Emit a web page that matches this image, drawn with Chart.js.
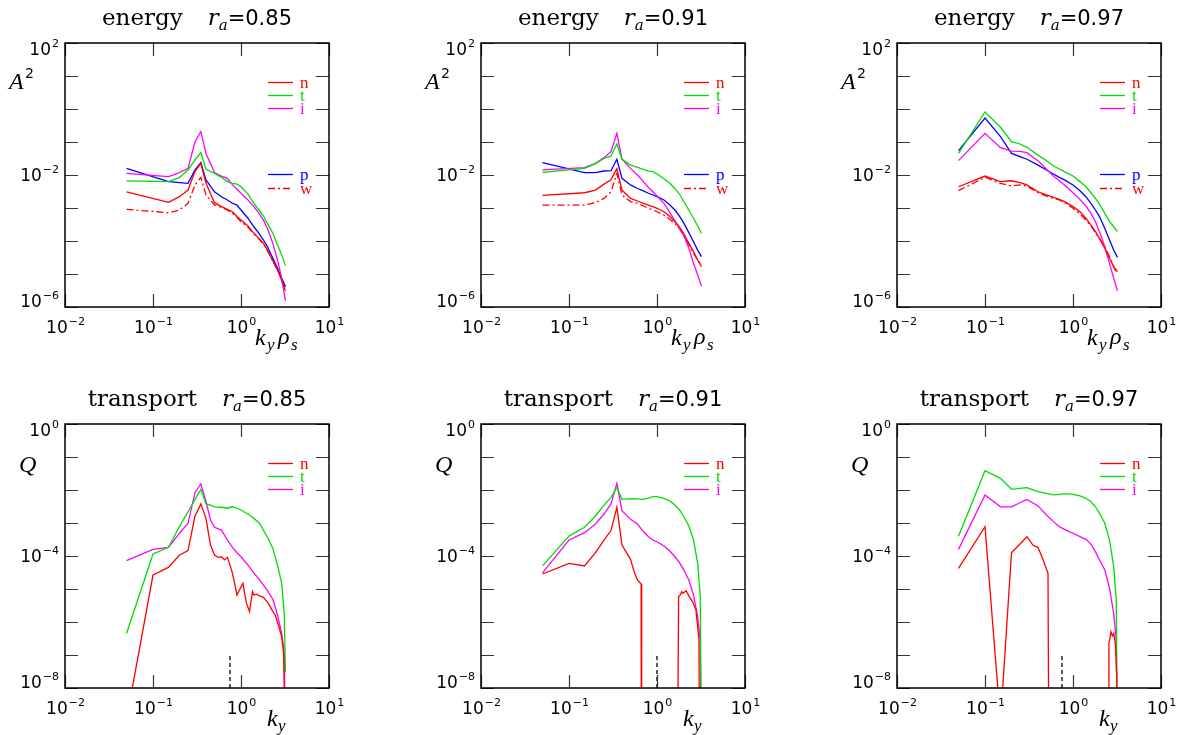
<!DOCTYPE html>
<html>
<head>
<meta charset="utf-8">
<script src="https://cdn.jsdelivr.net/npm/chart.js@4.4.1/dist/chart.umd.min.js"></script>
<style>
  body { margin: 0; background: #fff; width: 1183px; height: 735px; overflow: hidden; position: relative; }
  canvas { position: absolute; }
</style>
</head>
<body>
<canvas id="e85" width="416" height="367" style="left:0px;top:0px"></canvas>
<canvas id="e91" width="416" height="367" style="left:416px;top:0px"></canvas>
<canvas id="e97" width="416" height="367" style="left:832px;top:0px"></canvas>
<canvas id="q85" width="416" height="368" style="left:0px;top:367px"></canvas>
<canvas id="q91" width="416" height="368" style="left:416px;top:367px"></canvas>
<canvas id="q97" width="416" height="368" style="left:832px;top:367px"></canvas>
<script>
// ---- energy spectra, r_a = 0.85 ----
const kE85 = [0.05, 0.15, 0.2, 0.25, 0.3, 0.35, 0.4, 0.5, 0.6, 0.7, 0.8, 0.9, 1.0, 1.2, 1.4, 1.6, 1.8, 2.0, 2.3, 2.6, 2.9, 3.2];
const nE85 = [3.1e-3, 1.49e-3, 2.2e-3, 3.5e-3, 1.3e-2, 2.26e-2, 5.6e-3, 1.45e-3, 1.1e-3, 9.1e-4, 7.7e-4, 5.5e-4, 4.3e-4, 2.85e-4, 1.71e-4, 1.2e-4, 8.5e-5, 5.3e-5, 2.5e-5, 1.32e-5, 6.3e-6, 3.1e-6];
const tE85 = [6.6e-3, 6.3e-3, 8.5e-3, 1.42e-2, 2.85e-2, 4.75e-2, 1.49e-2, 1.12e-2, 8.5e-3, 6.3e-3, 5.6e-3, 5.3e-3, 4.4e-3, 2.65e-3, 1.39e-3, 8.7e-4, 5.7e-4, 3.4e-4, 1.71e-4, 7.6e-5, 3.8e-5, 1.79e-5];
const iE85 = [1.12e-2, 8.9e-3, 1.18e-2, 1.59e-2, 1.02e-1, 2.06e-1, 4.5e-2, 1.18e-2, 9.3e-3, 7.9e-3, 5.0e-3, 3.7e-3, 2.8e-3, 1.75e-3, 1.1e-3, 6.9e-4, 4.3e-4, 2.4e-4, 8.5e-5, 2.65e-5, 7.4e-6, 1.56e-6];
const pE85 = [1.59e-2, 6.3e-3, 5.9e-3, 5.6e-3, 1.42e-2, 2.37e-2, 7.1e-3, 3.1e-3, 2.2e-3, 1.75e-3, 1.39e-3, 1.23e-3, 8.7e-4, 4.9e-4, 2.7e-4, 1.71e-4, 1.07e-4, 6.7e-5, 3.0e-5, 1.49e-5, 7.4e-6, 4.1e-6];
const wE85 = [9.1e-4, 7.2e-4, 8.7e-4, 1.39e-3, 5.0e-3, 8.5e-3, 2.48e-3, 1.23e-3, 1.05e-3, 8.7e-4, 6.9e-4, 5.2e-4, 3.85e-4, 2.6e-4, 1.63e-4, 1.15e-4, 8.1e-5, 5.1e-5, 2.5e-5, 1.32e-5, 6.9e-6, 3.7e-6];

// ---- energy spectra, r_a = 0.91 ----
const kE91 = [0.05, 0.15, 0.2, 0.25, 0.3, 0.35, 0.4, 0.5, 0.6, 0.7, 0.8, 0.9, 1.0, 1.2, 1.4, 1.6, 1.8, 2.0, 2.3, 2.6, 2.9, 3.2];
const nE91 = [2.42e-3, 2.9e-3, 3.5e-3, 5.3e-3, 7.1e-3, 1.56e-2, 3.5e-3, 1.96e-3, 1.63e-3, 1.39e-3, 1.23e-3, 1.1e-3, 9.8e-4, 7.7e-4, 5.5e-4, 3.85e-4, 2.7e-4, 1.71e-4, 8.5e-5, 4.75e-5, 2.65e-5, 1.67e-5];
const tE91 = [1.2e-2, 1.59e-2, 2.2e-2, 3.2e-2, 3.77e-2, 8.7e-2, 3.0e-2, 2.0e-2, 1.71e-2, 1.49e-2, 1.32e-2, 1.26e-2, 1.07e-2, 7.7e-3, 5.6e-3, 3.85e-3, 2.65e-3, 1.63e-3, 8.7e-4, 4.9e-4, 2.85e-4, 1.71e-4];
const iE91 = [1.42e-2, 1.67e-2, 2.26e-2, 3.4e-2, 5.1e-2, 1.83e-1, 3.0e-2, 1.59e-2, 1.0e-2, 6.3e-3, 4.2e-3, 3.1e-3, 2.3e-3, 1.39e-3, 7.2e-4, 4.1e-4, 2.4e-4, 1.52e-4, 6.0e-5, 2.1e-5, 9.3e-6, 4.3e-6];
const pE91 = [2.37e-2, 1.18e-2, 1.18e-2, 1.32e-2, 1.35e-2, 3.0e-2, 7.9e-3, 5.0e-3, 3.9e-3, 3.3e-3, 2.8e-3, 2.48e-3, 2.2e-3, 1.75e-3, 1.23e-3, 8.7e-4, 5.7e-4, 3.6e-4, 1.79e-4, 9.5e-5, 5.3e-5, 3.35e-5];
const wE91 = [1.23e-3, 1.23e-3, 1.45e-3, 1.96e-3, 3.1e-3, 1.12e-2, 2.48e-3, 1.56e-3, 1.39e-3, 1.15e-3, 9.8e-4, 8.7e-4, 7.7e-4, 6.1e-4, 4.5e-4, 3.4e-4, 2.4e-4, 1.52e-4, 7.6e-5, 4.2e-5, 2.65e-5, 1.87e-5];

// ---- energy spectra, r_a = 0.97 ----
const kE97 = [0.05, 0.1, 0.15, 0.2, 0.25, 0.3, 0.4, 0.5, 0.6, 0.7, 0.8, 1.0, 1.2, 1.4, 1.6, 1.8, 2.0, 2.3, 2.6, 2.9, 3.2];
const nE97 = [4.4e-3, 9.3e-3, 6.3e-3, 6.7e-3, 5.9e-3, 5.0e-3, 3.1e-3, 2.48e-3, 2.1e-3, 1.83e-3, 1.56e-3, 1.1e-3, 7.7e-4, 4.9e-4, 3.05e-4, 1.92e-4, 1.2e-4, 6.0e-5, 3.0e-5, 1.67e-5, 1.18e-5];
const tE97 = [4.5e-2, 8.1e-1, 2.79e-1, 1.02e-1, 8.7e-2, 6.9e-2, 4.0e-2, 2.72e-2, 1.87e-2, 1.52e-2, 1.26e-2, 9.3e-3, 6.3e-3, 4.4e-3, 2.9e-3, 1.96e-3, 1.32e-3, 6.9e-4, 3.85e-4, 2.7e-4, 1.92e-4];
const iE97 = [2.72e-2, 1.83e-1, 6.7e-2, 5.3e-2, 5.2e-2, 4.75e-2, 2.72e-2, 1.49e-2, 9.3e-3, 6.7e-3, 5.0e-3, 2.9e-3, 1.83e-3, 1.15e-3, 6.9e-4, 3.85e-4, 1.92e-4, 6.7e-5, 2.1e-5, 7.4e-6, 3.1e-6];
const pE97 = [5.5e-2, 5.3e-1, 1.45e-1, 4.5e-2, 3.6e-2, 3.0e-2, 2.0e-2, 1.42e-2, 1.07e-2, 8.5e-3, 7.1e-3, 5.0e-3, 3.35e-3, 2.2e-3, 1.39e-3, 8.7e-4, 5.5e-4, 2.4e-4, 1.07e-4, 5.3e-5, 3.2e-5];
const wE97 = [3.35e-3, 8.5e-3, 5.6e-3, 4.65e-3, 5.0e-3, 4.65e-3, 2.9e-3, 2.3e-3, 1.96e-3, 1.75e-3, 1.45e-3, 9.8e-4, 6.6e-4, 4.3e-4, 2.85e-4, 1.79e-4, 1.2e-4, 6.4e-5, 3.35e-5, 1.67e-5, 1.0e-5];

// ---- transport, r_a = 0.85 ----
const kQ85 = [0.05, 0.1, 0.15, 0.2, 0.25, 0.3, 0.35, 0.4, 0.45, 0.5, 0.6, 0.7, 0.8, 0.9, 1.0, 1.2, 1.4, 1.6, 1.8, 2.0, 2.3, 2.6, 2.9, 3.1, 3.2];
const tQ85 = [4.5e-7, 1.15e-4, 1.83e-4, 7.8e-4, 2.2e-3, 5.2e-3, 1.05e-2, 3.8e-3, 3.5e-3, 3.1e-3, 3.0e-3, 2.8e-3, 3.1e-3, 2.8e-3, 2.48e-3, 1.87e-3, 1.38e-3, 1.02e-3, 6.1e-4, 3.7e-4, 1.7e-4, 5.3e-5, 1.49e-5, 1.83e-6, 3e-8];
const iQ85 = [7.2e-5, 1.59e-4, 1.83e-4, 4.9e-4, 9.8e-4, 8.3e-3, 1.52e-2, 4.5e-3, 1.23e-3, 7.4e-4, 6.1e-4, 3.05e-4, 1.83e-4, 1.26e-4, 9.5e-5, 5.3e-5, 3.1e-5, 2.0e-5, 1.32e-5, 8.9e-6, 4.9e-6, 1.63e-6, 4.5e-7, 1.12e-7, 1e-10];
const kQ85n = [0.05, 0.1, 0.15, 0.2, 0.25, 0.3, 0.35, 0.4, 0.45, 0.5, 0.55, 0.6, 0.65, 0.7, 0.75, 0.8, 0.9, 1.05, 1.15, 1.25, 1.35, 1.4, 1.5, 1.65, 1.8, 2.05, 2.25, 2.45, 2.65, 2.9, 3.05, 3.2];
const nQ85 = [1.1e-9, 2.65e-5, 4.5e-5, 1.07e-4, 1.45e-4, 1.63e-3, 3.8e-3, 1.38e-3, 2.15e-4, 1.07e-4, 9.1e-5, 9.5e-5, 7.6e-5, 9.1e-5, 5.3e-5, 3.0e-5, 6.6e-6, 1.49e-5, 3.85e-6, 2.06e-6, 8.3e-6, 6.6e-6, 7.0e-6, 6.1e-6, 5.6e-6, 3.7e-6, 2.3e-6, 1.63e-6, 8.1e-7, 3.6e-7, 1.12e-7, 1e-10];

// ---- transport, r_a = 0.91 ----
const kQ91 = [0.05, 0.1, 0.15, 0.2, 0.25, 0.3, 0.35, 0.4, 0.5, 0.6, 0.7, 0.8, 0.9, 1.0, 1.2, 1.4, 1.6, 1.8, 2.0, 2.3, 2.6, 2.9, 3.1, 3.2];
const tQ91 = [5.0e-5, 4.0e-4, 7.4e-4, 1.63e-3, 3.5e-3, 6.0e-3, 1.2e-2, 5.2e-3, 5.5e-3, 5.4e-3, 5.2e-3, 5.7e-3, 6.3e-3, 6.3e-3, 5.6e-3, 4.65e-3, 3.5e-3, 2.48e-3, 1.63e-3, 8.1e-4, 3.05e-4, 6.0e-5, 5.9e-6, 1e-10];
const iQ91 = [3.1e-5, 3.05e-4, 5.1e-4, 9.3e-4, 1.87e-3, 3.8e-3, 1.59e-2, 2.37e-3, 1.29e-3, 9.3e-4, 5.5e-4, 3.85e-4, 3.05e-4, 2.7e-4, 2.0e-4, 1.42e-4, 9.5e-5, 6.3e-5, 3.95e-5, 1.87e-5, 6.6e-6, 1.45e-6, 2.85e-7, 1e-10];
const kQ91n = [0.05, 0.1, 0.15, 0.2, 0.25, 0.3, 0.35, 0.4, 0.45, 0.5, 0.55, 0.6, 0.66, 0.67, 1.62, 1.76, 1.84, 1.91, 1.97, 2.14, 2.33, 2.54, 2.77, 3.0, 3.15];
const nQ91 = [2.85e-5, 6.0e-5, 5.0e-5, 1.26e-4, 3.05e-4, 5.9e-4, 3.0e-3, 2.15e-4, 1.26e-4, 7.9e-5, 3.35e-5, 1.87e-5, 1.42e-5, 1e-20, 1e-20, 5.9e-6, 6.6e-6, 8.3e-6, 7.4e-6, 8.9e-6, 5.9e-6, 4.1e-6, 2.3e-6, 2.85e-7, 1e-20];

// ---- transport, r_a = 0.97 ----
const kQ97 = [0.05, 0.1, 0.15, 0.2, 0.25, 0.3, 0.4, 0.5, 0.6, 0.7, 0.8, 0.9, 1.0, 1.2, 1.4, 1.6, 1.8, 2.0, 2.3, 2.6, 2.9, 3.1, 3.2];
const tQ97 = [4.0e-4, 3.85e-2, 2.25e-2, 1.05e-2, 1.12e-2, 1.18e-2, 8.9e-3, 7.9e-3, 7.1e-3, 7.4e-3, 7.6e-3, 7.6e-3, 7.4e-3, 6.6e-3, 5.6e-3, 4.4e-3, 3.1e-3, 1.96e-3, 9.8e-4, 3.05e-4, 4.75e-5, 4.65e-6, 1e-10];
const iQ97 = [1.59e-4, 7.1e-3, 3.1e-3, 3.1e-3, 4.1e-3, 5.2e-3, 3.3e-3, 1.75e-3, 1.1e-3, 7.7e-4, 6.4e-4, 5.5e-4, 4.9e-4, 3.85e-4, 3.2e-4, 2.3e-4, 1.35e-4, 7.6e-5, 3.8e-5, 1.05e-5, 1.83e-6, 2.85e-7, 1e-10];
const kQ97n = [0.05, 0.1, 0.15, 0.2, 0.25, 0.3, 0.35, 0.37, 0.4, 0.45, 0.52, 0.55, 2.53, 2.56, 2.61, 2.7, 2.8, 2.9, 3.03, 3.13, 3.2];
const nQ97 = [4.2e-5, 7.7e-4, 9.5e-10, 1.26e-4, 2.3e-4, 3.85e-4, 2.15e-4, 2.0e-4, 1.83e-4, 8.5e-5, 3.0e-5, 1e-20, 1e-20, 2.5e-7, 2.85e-7, 5.1e-7, 3.8e-7, 4.5e-7, 2.25e-7, 2.8e-8, 1e-20];

// dashed marker in the transport panels
const markK = [0.75, 1.0, 0.75];
const markQ = [1e-8, 1e-7];

// axes
const xDecades = [0.01, 0.1, 1, 10];
const xLabelExp = [-2, -1, 0, 1];
const yDecE = [1e-6, 1e-5, 1e-4, 1e-3, 1e-2, 1e-1, 1, 10, 100];
const yLabE = [2, -2, -6];
const yDecQ = [1e-8, 1e-7, 1e-6, 1e-5, 1e-4, 1e-3, 1e-2, 1e-1, 1];
const yLabQ = [0, -4, -8];

const RED = '#ff0000', GREEN = '#00dd00', MAG = '#ff00ff', BLUE = '#0000ff';
const DASHDOT = [7, 3, 2, 3];

function line(k, v, color, dash) {
  return {
    data: k.map((x, i) => ({ x: x, y: v[i] })),
    borderColor: color, borderWidth: 1.3, borderDash: dash || [],
    pointRadius: 0, tension: 0, clip: 0, fill: false
  };
}

function pow10(ctx, e, x, y, align) {
  const sup = e < 0 ? '\u2212' + (-e) : String(e);
  ctx.font = '17px "DejaVu Sans"';
  const w1 = ctx.measureText('10').width;
  ctx.font = '11px "DejaVu Sans"';
  const w2 = ctx.measureText(sup).width;
  const x0 = align === 'center' ? x - (w1 + w2) / 2 : x - w1 - w2;
  ctx.font = '17px "DejaVu Sans"';
  ctx.fillText('10', x0, y);
  ctx.font = '11px "DejaVu Sans"';
  ctx.fillText(sup, x0 + w1 + 1, y - 8);
}

function drawParts(ctx, parts, cx, y) {
  let total = 0;
  parts.forEach(p => {
    if (p.gap) { p.w = p.gap; } else { ctx.font = p.f; p.w = ctx.measureText(p.t).width; }
    total += p.w;
  });
  let x = cx - total / 2;
  parts.forEach(p => {
    if (!p.gap) { ctx.font = p.f; ctx.fillText(p.t, x, y + (p.dy || 0)); }
    x += p.w;
  });
}

const decor = {
  id: 'decor',
  afterDraw(chart) {
    const o = chart.options.plugins.decor;
    const { ctx, chartArea: a, scales } = chart;
    const sx = scales.x, sy = scales.y;
    const isE = o.kind === 'E';
    ctx.save();
    ctx.textAlign = 'left';
    ctx.textBaseline = 'alphabetic';

    // inward tick marks on all four sides
    ctx.strokeStyle = '#333';
    ctx.lineWidth = 1.2;
    ctx.beginPath();
    xDecades.forEach(v => {
      const px = Math.round(sx.getPixelForValue(v)) + 0.5;
      ctx.moveTo(px, a.bottom); ctx.lineTo(px, a.bottom - 13);
      ctx.moveTo(px, a.top); ctx.lineTo(px, a.top + 13);
    });
    (isE ? yDecE : yDecQ).forEach(v => {
      const py = Math.round(sy.getPixelForValue(v)) + 0.5;
      ctx.moveTo(a.left, py); ctx.lineTo(a.left + 13, py);
      ctx.moveTo(a.right, py); ctx.lineTo(a.right - 13, py);
    });
    ctx.stroke();

    // frame
    ctx.strokeStyle = '#000';
    ctx.lineWidth = 1.5;
    ctx.strokeRect(a.left, a.top, a.right - a.left, a.bottom - a.top);

    // tick labels
    ctx.fillStyle = '#000';
    xLabelExp.forEach(e => pow10(ctx, e, sx.getPixelForValue(Math.pow(10, e)), a.bottom + 26, 'center'));
    (isE ? yLabE : yLabQ).forEach(e => {
      const py = sy.getPixelForValue(Math.pow(10, e));
      const base = Math.min(Math.max(py + 6, a.top + 12), a.bottom);
      pow10(ctx, e, a.left - 7, base, 'right');
    });

    // title
    drawParts(ctx, [
      { t: isE ? 'energy' : 'transport', f: '23px "DejaVu Serif"' },
      { gap: 25 },
      { t: 'r', f: 'italic 23px "DejaVu Serif"' },
      { t: 'a', f: 'italic 15px "DejaVu Serif"', dy: 5 },
      { t: '=' + o.ra, f: '21px "DejaVu Sans"' }
    ], (a.left + a.right) / 2, a.top - 18);

    // axis labels
    if (isE) {
      ctx.font = 'italic 24px "Liberation Serif"';
      ctx.fillText('A', a.left - 56, a.top + 46);
      ctx.font = '14px "DejaVu Sans"';
      ctx.fillText('2', a.left - 40, a.top + 35);
      ctx.font = 'italic 24px "Liberation Serif"';
      ctx.fillText('k', a.left + 190, a.bottom + 38);
      ctx.fillText('\u03c1', a.left + 213, a.bottom + 37);
      ctx.font = 'italic 17px "Liberation Serif"';
      ctx.fillText('y', a.left + 202, a.bottom + 43);
      ctx.fillText('s', a.left + 226, a.bottom + 43);
    } else {
      ctx.font = 'italic 24px "Liberation Serif"';
      ctx.fillText('Q', a.left - 46, a.top + 48);
      ctx.fillText('k', a.left + 202, a.bottom + 38);
      ctx.font = 'italic 17px "Liberation Serif"';
      ctx.fillText('y', a.left + 213, a.bottom + 43);
    }

    // legend
    const rows = [['n', RED, 39, null], ['t', GREEN, 52, null], ['i', MAG, 65, null]];
    if (isE) rows.push(['p', BLUE, 131, null], ['w', RED, 145, DASHDOT]);
    ctx.lineWidth = 1.3;
    rows.forEach(r => {
      const yy = a.top + r[2] + 0.5;
      ctx.strokeStyle = r[1];
      ctx.setLineDash(r[3] || []);
      ctx.beginPath();
      ctx.moveTo(a.left + 203, yy); ctx.lineTo(a.left + 228, yy);
      ctx.stroke();
      ctx.setLineDash([]);
      ctx.fillStyle = r[1];
      ctx.font = '17px "Liberation Serif"';
      ctx.fillText(r[0], a.left + 235, yy + 5);
    });
    ctx.restore();
  }
};

function makeChart(id, kind, ra, datasets) {
  const isE = kind === 'E';
  new Chart(document.getElementById(id), {
    type: 'line',
    data: { datasets: datasets },
    plugins: [decor],
    options: {
      responsive: false,
      animation: false,
      events: [],
      layout: { padding: isE ? { left: 65, right: 87, top: 43, bottom: 60 } : { left: 65, right: 87, top: 57, bottom: 47 } },
      plugins: { legend: { display: false }, tooltip: { enabled: false }, decor: { kind: kind, ra: ra } },
      scales: {
        x: { type: 'logarithmic', min: 0.01, max: 10, display: false },
        y: { type: 'logarithmic', min: isE ? 1e-6 : 1e-8, max: isE ? 100 : 1, display: false }
      }
    }
  });
}

makeChart('e85', 'E', '0.85', [
  line(kE85, nE85, RED), line(kE85, tE85, GREEN), line(kE85, iE85, MAG),
  line(kE85, pE85, BLUE), line(kE85, wE85, RED, DASHDOT)
]);
makeChart('e91', 'E', '0.91', [
  line(kE91, nE91, RED), line(kE91, tE91, GREEN), line(kE91, iE91, MAG),
  line(kE91, pE91, BLUE), line(kE91, wE91, RED, DASHDOT)
]);
makeChart('e97', 'E', '0.97', [
  line(kE97, nE97, RED), line(kE97, tE97, GREEN), line(kE97, iE97, MAG),
  line(kE97, pE97, BLUE), line(kE97, wE97, RED, DASHDOT)
]);
makeChart('q85', 'Q', '0.85', [
  line(kQ85n, nQ85, RED), line(kQ85, tQ85, GREEN), line(kQ85, iQ85, MAG),
  line([markK[0], markK[0]], markQ, '#000', [4, 3])
]);
makeChart('q91', 'Q', '0.91', [
  line(kQ91n, nQ91, RED), line(kQ91, tQ91, GREEN), line(kQ91, iQ91, MAG),
  line([markK[1], markK[1]], markQ, '#000', [4, 3])
]);
makeChart('q97', 'Q', '0.97', [
  line(kQ97n, nQ97, RED), line(kQ97, tQ97, GREEN), line(kQ97, iQ97, MAG),
  line([markK[2], markK[2]], markQ, '#000', [4, 3])
]);
</script>
</body>
</html>
